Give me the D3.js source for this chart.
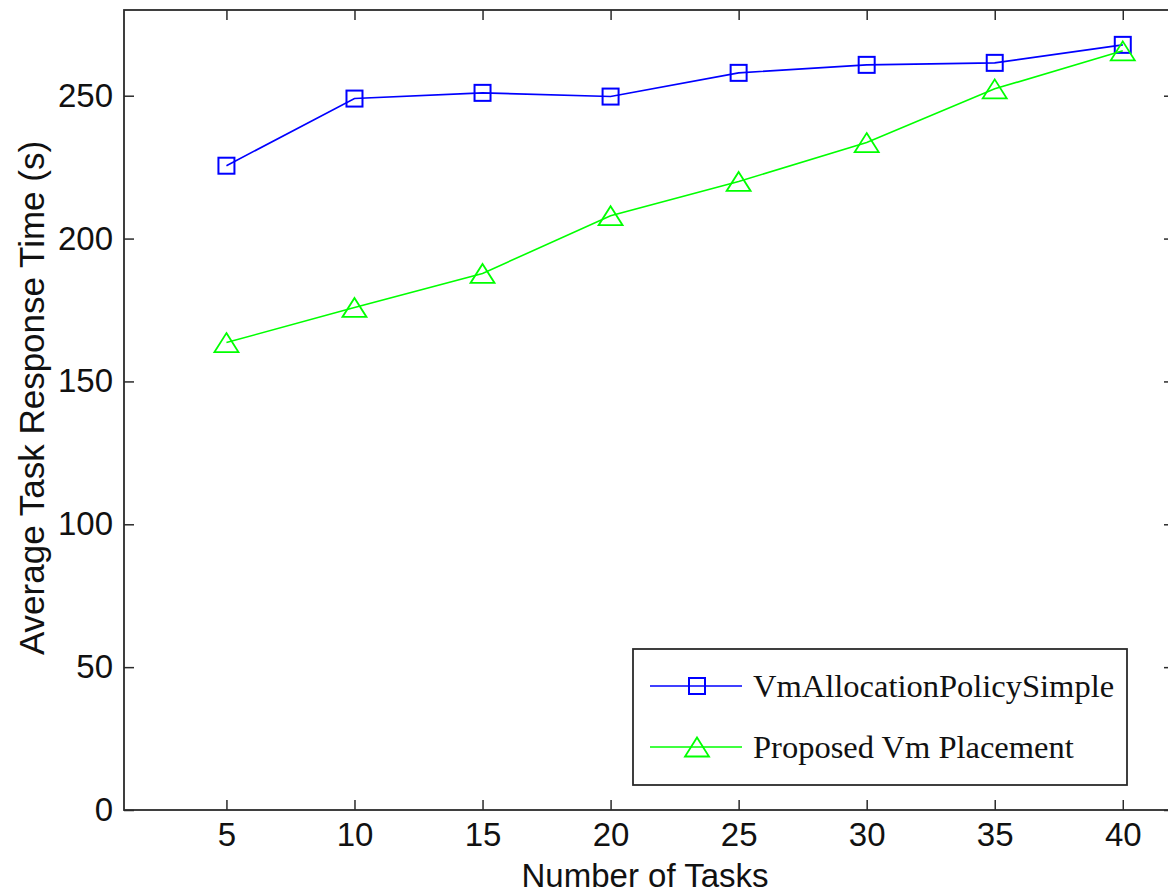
<!DOCTYPE html>
<html>
<head>
<meta charset="utf-8">
<script src="https://cdn.jsdelivr.net/npm/d3@7"></script>
<style>
	body { margin: 0; background: #fff; }
	svg { display: block; }
	.tick text { font-family: Arial, "Liberation Sans", sans-serif; font-size: 33px; fill: #111; }
	.axis-label { font-family: Arial, "Liberation Sans", sans-serif; font-size: 33px; fill: #111; }
	.legend-text { font-family: "Times New Roman", "Liberation Serif", serif; font-size: 32.5px; fill: #111; }
</style>
</head>
<body>
<div id="chart"></div>
<script>
// Data

var tasks = [5, 10, 15, 20, 25, 30, 35, 40];
var simpleTimes = [225.5, 249, 251, 249.7, 258, 260.8, 261.5, 267.8];
var proposedTimes = [163.6, 175.9, 187.8, 208, 220, 233.6, 252.4, 265.7];
var xTicks = [5, 10, 15, 20, 25, 30, 35, 40];
var yTicks = [0, 50, 100, 150, 200, 250];

var series = [
	{ name: 'VmAllocationPolicySimple', values: simpleTimes, color: '#0000ff', marker: 'square' },
	{ name: 'Proposed Vm Placement', values: proposedTimes, color: '#00ff00', marker: 'triangle' }
];

// Config

var width = 1168;
var height = 896;
var plot = { left: 124, top: 10, right: 1174, bottom: 810 };
var tickLen = 10;
var axisColor = '#2b2b2b';

// Setup

var svg = d3.select('#chart').append('svg')
	.attr('width', width)
	.attr('height', height);

var x = d3.scaleLinear().domain([1, 42]).range([plot.left, plot.right]);
var y = d3.scaleLinear().domain([0, 280]).range([plot.bottom, plot.top]);

// Axes (ticks inward on all four sides)

function styleAxis(g) {
	g.select('.domain').remove();
	g.selectAll('.tick line').attr('stroke', axisColor).attr('stroke-width', 1.5);
}

svg.append('g')
	.attr('transform', `translate(0,${plot.bottom})`)
	.call(d3.axisBottom(x).tickValues(xTicks).tickSizeInner(-tickLen).tickSizeOuter(0).tickPadding(13))
	.call(styleAxis)
	.selectAll('.tick text').attr('dy', '0.71em');

svg.append('g')
	.attr('transform', `translate(0,${plot.top})`)
	.call(d3.axisTop(x).tickValues(xTicks).tickSizeInner(-tickLen).tickSizeOuter(0).tickFormat(''))
	.call(styleAxis);

svg.append('g')
	.attr('transform', `translate(${plot.left},0)`)
	.call(d3.axisLeft(y).tickValues(yTicks).tickSizeInner(-tickLen).tickSizeOuter(0).tickPadding(11))
	.call(styleAxis);

svg.append('g')
	.attr('transform', `translate(${plot.right},0)`)
	.call(d3.axisRight(y).tickValues(yTicks).tickSizeInner(-tickLen).tickSizeOuter(0).tickFormat(''))
	.call(styleAxis);

svg.append('rect')
	.attr('x', plot.left)
	.attr('y', plot.top)
	.attr('width', plot.right - plot.left)
	.attr('height', plot.bottom - plot.top)
	.attr('fill', 'none')
	.attr('stroke', axisColor)
	.attr('stroke-width', 1.8);

svg.append('text')
	.attr('class', 'axis-label')
	.attr('x', 645)
	.attr('y', 887)
	.attr('text-anchor', 'middle')
	.text('Number of Tasks');

svg.append('text')
	.attr('class', 'axis-label')
	.attr('transform', 'translate(44,398) rotate(-90)')
	.attr('text-anchor', 'middle')
	.style('font-size', '35px')
	.text('Average Task Response Time (s)');

// Markers

function drawMarker(g, type, color) {
	if (type === 'square') {
		g.append('rect')
			.attr('x', -8).attr('y', -8)
			.attr('width', 16).attr('height', 16)
			.attr('fill', 'none')
			.attr('stroke', color)
			.attr('stroke-width', 2);
	} else {
		g.append('path')
			.attr('d', 'M0,-9.5L12,9.5L-12,9.5Z')
			.attr('fill', 'none')
			.attr('stroke', color)
			.attr('stroke-width', 1.8);
	}
}

// Lines

var line = d3.line()
	.x((d, i) => x(tasks[i]))
	.y(d => y(d));

series.forEach(s => {
	svg.append('path')
		.attr('d', line(s.values))
		.attr('fill', 'none')
		.attr('stroke', s.color)
		.attr('stroke-width', 1.6);

	s.values.forEach((v, i) => {
		let g = svg.append('g').attr('transform', `translate(${x(tasks[i])},${y(v)})`);
		drawMarker(g, s.marker, s.color);
	});
});

// Legend

var legend = svg.append('g');
legend.append('rect')
	.attr('x', 633).attr('y', 649)
	.attr('width', 494).attr('height', 136)
	.attr('fill', '#fff')
	.attr('stroke', axisColor)
	.attr('stroke-width', 1.8);

series.forEach((s, i) => {
	let ly = 686 + i * 61;
	legend.append('line')
		.attr('x1', 650).attr('x2', 742)
		.attr('y1', ly).attr('y2', ly)
		.attr('stroke', s.color)
		.attr('stroke-width', 1.6);
	let g = legend.append('g').attr('transform', `translate(697,${ly})`);
	drawMarker(g, s.marker, s.color);
	legend.append('text')
		.attr('class', 'legend-text')
		.attr('x', 753)
		.attr('y', ly + 11)
		.text(s.name);
});
</script>
</body>
</html>
